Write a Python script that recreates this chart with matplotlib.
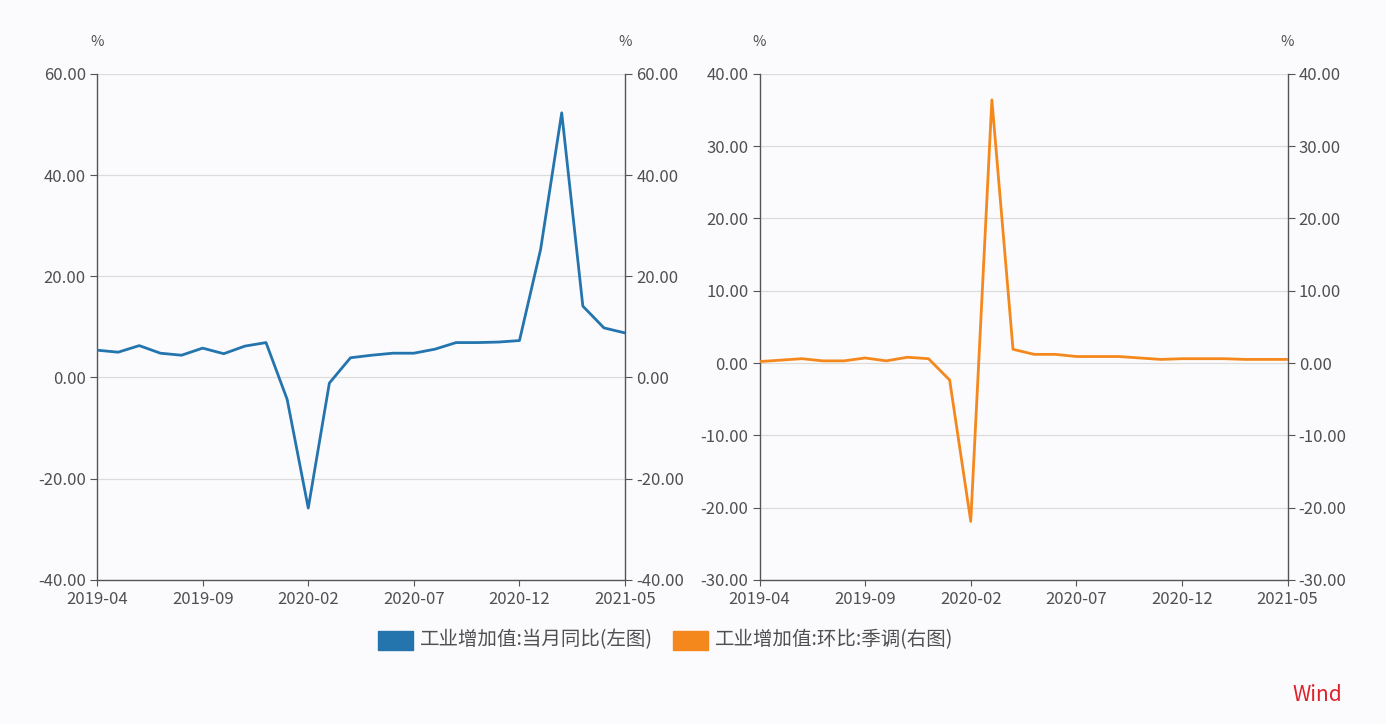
import numpy as np
import matplotlib.pyplot as plt
from matplotlib.patches import Rectangle

plt.rcParams['font.family'] = ['Noto Sans CJK SC', 'DejaVu Sans']

months = ["2019-04", "2019-05", "2019-06", "2019-07", "2019-08", "2019-09", "2019-10",
          "2019-11", "2019-12", "2020-01", "2020-02", "2020-03", "2020-04", "2020-05",
          "2020-06", "2020-07", "2020-08", "2020-09", "2020-10", "2020-11", "2020-12",
          "2021-01", "2021-02", "2021-03", "2021-04", "2021-05"]

# industrial value added, y/y current month (left)
yoy = [5.4, 5.0, 6.3, 4.8, 4.4, 5.8, 4.7, 6.2, 6.9, -4.3, -25.8, -1.1, 3.9, 4.4,
       4.8, 4.8, 5.6, 6.9, 6.9, 7.0, 7.3, 25.3, 52.3, 14.1, 9.8, 8.8]
# industrial value added, m/m seasonally adjusted (right)
mom = [0.2, 0.4, 0.6, 0.3, 0.3, 0.7, 0.3, 0.8, 0.6, -2.35, -21.9, 36.4, 1.9, 1.2,
       1.2, 0.9, 0.9, 0.9, 0.7, 0.5, 0.6, 0.6, 0.6, 0.5, 0.5, 0.5]

label_left = "工业增加值:当月同比(左图)"
label_right = "工业增加值:环比:季调(右图)"
tick_months = ["2019-04", "2019-09", "2020-02", "2020-07", "2020-12", "2021-05"]

blue = "#2474ae"
orange = "#f5881c"
bg = "#fbfbfd"
spine_c = "#555555"
text_c = "#505050"

fig = plt.figure(figsize=(13.86, 7.24), dpi=100, facecolor=bg)
x = np.arange(len(months))
tick_pos = [months.index(m) for m in tick_months]


def panel(rect, data, color, yticks):
    ax = fig.add_axes(rect, facecolor=bg)
    ax.plot(x, data, color=color, lw=2.0, zorder=3)
    ax.set_xlim(0, len(months) - 1)
    ax.set_ylim(yticks[0], yticks[-1])
    ax.set_yticks(yticks)
    ax.set_yticklabels([f"{v:.2f}" for v in yticks])
    ax.set_xticks(tick_pos)
    ax.set_xticklabels(tick_months)
    ax.grid(axis='y', color='#dcdcdc', lw=0.9)
    ax.set_axisbelow(True)
    ax.spines['top'].set_visible(False)
    for s in ['left', 'right', 'bottom']:
        ax.spines[s].set_color(spine_c)
        ax.spines[s].set_linewidth(1.0)
    ax.tick_params(axis='y', which='both', left=True, right=True, labelleft=True,
                   labelright=True, length=5, color=spine_c, labelcolor=text_c,
                   labelsize=12, pad=3)
    ax.tick_params(axis='x', length=4, color=spine_c, labelcolor=text_c,
                   labelsize=12, pad=4)
    ax.text(0, 1 + 32 / 506, "%", transform=ax.transAxes, ha='center', va='center',
            fontsize=10.5, color=text_c)
    ax.text(1, 1 + 32 / 506, "%", transform=ax.transAxes, ha='center', va='center',
            fontsize=10.5, color=text_c)
    return ax


panel([0.070, 0.199, 0.381, 0.699], yoy, blue, [-40, -20, 0, 20, 40, 60])
panel([0.548, 0.199, 0.381, 0.699], mom, orange, [-30, -20, -10, 0, 10, 20, 30, 40])

# legend
fig.patches.append(Rectangle((378 / 1386, 1 - 650 / 724), 35 / 1386, 19 / 724,
                             transform=fig.transFigure, color=blue))
fig.text(420 / 1386, 1 - 640 / 724, label_left, ha='left', va='center',
         fontsize=14, color=text_c)
fig.patches.append(Rectangle((673 / 1386, 1 - 650 / 724), 35 / 1386, 19 / 724,
                             transform=fig.transFigure, color=orange))
fig.text(715 / 1386, 1 - 640 / 724, label_right, ha='left', va='center',
         fontsize=14, color=text_c)

fig.text(1342 / 1386, 1 - 695 / 724, "Wind", ha='right', va='center',
         fontsize=15, color='#e0202a')

fig.savefig("out.png", dpi=100, facecolor=bg)
